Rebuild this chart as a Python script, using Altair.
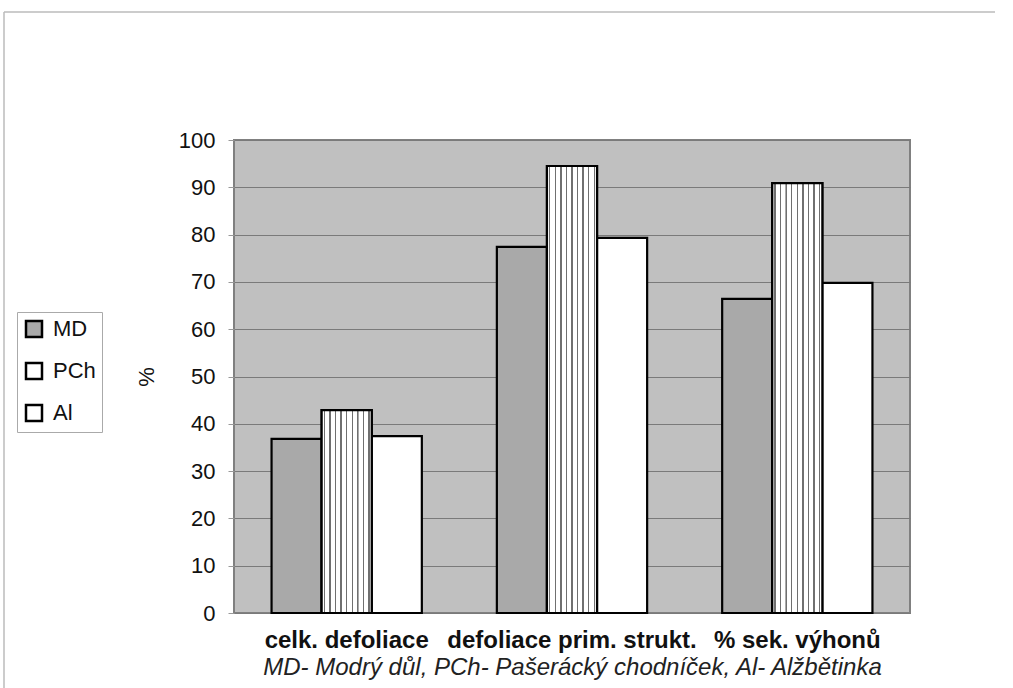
import altair as alt
import pandas as pd

categories = ["celk. defoliace", "defoliace prim. strukt.", "% sek. výhonů"]
series = ["MD", "PCh", "Al"]
md_values = [36.8, 77.4, 66.4]
pch_values = [42.9, 94.5, 90.9]
al_values = [37.4, 79.3, 69.8]

rows = []
for i, c in enumerate(categories):
    for s, vals in zip(series, [md_values, pch_values, al_values]):
        rows.append({"kat": c, "lok": s, "val": vals[i]})
df = pd.DataFrame(rows)

FONT = "Liberation Sans"

# vertical stripe pattern for PCh as a hard-stop gradient
n_lines = 9
stops = [alt.GradientStop(offset=0, color="#ffffff")]
for k in range(n_lines):
    c = (k + 0.5) / n_lines
    stops += [
        alt.GradientStop(offset=c - 0.014, color="#ffffff"),
        alt.GradientStop(offset=c - 0.013, color="#707070"),
        alt.GradientStop(offset=c + 0.013, color="#707070"),
        alt.GradientStop(offset=c + 0.014, color="#ffffff"),
    ]
stops.append(alt.GradientStop(offset=1, color="#ffffff"))
stripe = alt.Gradient(gradient="linear", stops=stops, x1=0, x2=1, y1=0, y2=0)

x_enc = alt.X(
    "kat:N",
    sort=categories,
    scale=alt.Scale(paddingInner=0.333, paddingOuter=0.1667),
    axis=alt.Axis(
        title="MD- Modrý důl, PCh- Pašerácký chodníček, Al- Alžbětinka",
        titleFont=FONT, titleFontSize=24, titleFontStyle="italic", titleFontWeight="normal",
        titleColor="#222222", titlePadding=3,
        labelFont=FONT, labelFontSize=24, labelFontWeight="bold", labelColor="#111111",
        labelPadding=15, labelAngle=0, labelLimit=0, ticks=False, domain=False, grid=False,
    ),
)
y_enc = alt.Y(
    "val:Q",
    scale=alt.Scale(domain=[0, 100]),
    axis=alt.Axis(
        title="%", titleFont=FONT, titleFontSize=22, titleFontWeight="normal",
        titleColor="#111111", titlePadding=20,
        values=list(range(0, 101, 10)),
        labelFont=FONT, labelFontSize=22, labelColor="#111111", labelPadding=13,
        tickSize=6, tickColor="#999999", domain=False,
        grid=True, gridColor="#7a7a7a", gridWidth=1,
    ),
)
xo = alt.XOffset("lok:N", sort=series, scale=alt.Scale(domain=series, paddingInner=0, paddingOuter=0))

bars = alt.Chart(df).mark_bar(stroke="#000000", strokeWidth=2.2).encode(
    x=x_enc,
    y=y_enc,
    xOffset=xo,
    fill=alt.Fill(
        "lok:N", sort=series,
        scale=alt.Scale(domain=series, range=["#a9a9a9", "#ffffff", "#ffffff"]),
        legend=alt.Legend(
            title=None, orient="none", legendX=-217, legendY=172,
            symbolType="square", symbolSize=256, symbolStrokeColor="#000000",
            symbolStrokeWidth=2.5, labelFont=FONT, labelFontSize=22, labelColor="#111111",
            labelOffset=8, rowPadding=16, padding=6, strokeColor="#aaaaaa", fillColor="#ffffff",
        ),
    ),
)

pch = alt.Chart(df).transform_filter(alt.datum.lok == "PCh").mark_bar(
    fill=stripe, stroke="#000000", strokeWidth=2.2
).encode(x=x_enc, y=y_enc, xOffset=xo)

frame_df = pd.DataFrame({"a": [0]})
top_line = alt.Chart(frame_df).mark_rule(color="#bbbbbb", strokeWidth=1.5).encode(
    x=alt.value(-230), x2=alt.value(761), y=alt.value(-128)
)
left_line = alt.Chart(frame_df).mark_rule(color="#bbbbbb", strokeWidth=1.5).encode(
    x=alt.value(-230), y=alt.value(-128), y2=alt.value(548)
)

chart = alt.layer(bars, pch, top_line, left_line).properties(
    width=676, height=473,
    autosize=alt.AutoSizeParams(type="none"),
    padding={"left": 234, "top": 140, "right": 103, "bottom": 75},
    background="#ffffff",
).configure_view(
    fill="#c0c0c0", stroke="#808080", strokeWidth=2
)

chart.save("out.html", embed_options={"renderer": "svg", "actions": False})
